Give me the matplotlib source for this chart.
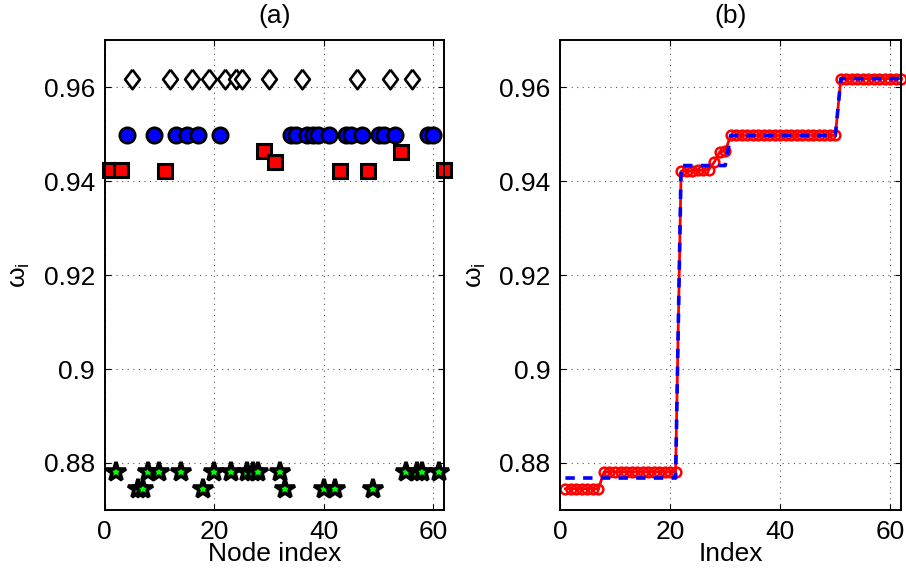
import numpy as np
import matplotlib
matplotlib.use('Agg')
import matplotlib.pyplot as plt

plt.rcParams['font.family'] = ['Liberation Sans', 'DejaVu Sans']
plt.rcParams['mathtext.fontset'] = 'custom'
plt.rcParams['mathtext.rm'] = 'Liberation Sans'
plt.rcParams['mathtext.it'] = 'Liberation Sans:italic'

# node index -> omega value, grouped by cluster
diamond_nodes = [5, 12, 16, 19, 22, 24, 25, 30, 36, 46, 52, 56]
diamond_vals = [0.9618] * len(diamond_nodes)

circle_nodes = [4, 9, 13, 15, 17, 21, 34, 35, 37, 38, 39, 41, 44, 45, 47, 50, 51, 53, 59, 60]
circle_vals = [0.9497] * len(circle_nodes)

square_nodes = [1, 3, 11, 29, 31, 43, 48, 54, 62]
square_vals = [0.9424, 0.9423, 0.9421, 0.9464, 0.9440, 0.9421, 0.9421, 0.9462, 0.9423]

star_hi_nodes = [2, 8, 10, 14, 20, 23, 26, 27, 28, 32, 55, 57, 58, 61]
star_hi_vals = [0.8781] * len(star_hi_nodes)
star_lo_nodes = [6, 7, 18, 33, 40, 42, 49]
star_lo_vals = [0.8745] * len(star_lo_nodes)

star_nodes = star_hi_nodes + star_lo_nodes
star_vals = star_hi_vals + star_lo_vals

# panel b: sorted omega values and cluster mean levels
omega_all = np.array(diamond_vals + circle_vals + square_vals + star_vals)
omega_sorted = np.sort(omega_all)
level_vals = [0.8768, 0.9433, 0.9497, 0.9618]
level_counts = [21, 9, 20, 12]
cluster_mean = np.repeat(level_vals, level_counts)
index = np.arange(1, len(omega_sorted) + 1)

fs = 19
fig = plt.figure(figsize=(9.06, 5.73), dpi=100)
ax1 = fig.add_axes([0.1155, 0.110, 0.375, 0.820])
ax2 = fig.add_axes([0.618, 0.110, 0.377, 0.820])

diamond = [(0, 1), (0.76, 0), (0, -1), (-0.76, 0), (0, 1)]
ax1.plot(diamond_nodes, diamond_vals, linestyle='none', marker=diamond, ms=14,
         mfc='white', mec='black', mew=1.9, clip_on=False)
ax1.plot(circle_nodes, circle_vals, linestyle='none', marker='o', ms=11,
         mfc=(0, 0, 1), mec='black', mew=2.0, clip_on=False)
ax1.plot(square_nodes, square_vals, linestyle='none', marker='s', ms=9.5,
         mfc=(1, 0, 0), mec='black', mew=2.2, clip_on=False)
ax1.plot(star_nodes, star_vals, linestyle='none', marker='*', ms=15,
         mfc=(0, 1, 0), mec='black', mew=2.6, clip_on=False)

ax2.plot(index, omega_sorted, color=(1, 0, 0), lw=2, marker='o', ms=7,
         mfc='none', mec=(1, 0, 0), mew=1.8, clip_on=False)
ax2.plot(index, cluster_mean, color=(0, 0, 1), lw=2.6, dashes=[2.6, 2.3],
         clip_on=False)

for ax, title, xlab in [(ax1, '(a)', 'Node index'), (ax2, '(b)', 'Index')]:
    ax.set_xlim(0, 62)
    ax.set_ylim(0.87, 0.97)
    ax.set_xticks([0, 20, 40, 60])
    ax.set_yticks([0.88, 0.9, 0.92, 0.94, 0.96])
    ax.set_yticklabels(['0.88', '0.9', '0.92', '0.94', '0.96'])
    ax.grid(True, color='0.35', linestyle=(0, (1, 4)), linewidth=0.8)
    ax.tick_params(direction='in', top=True, right=True, length=4,
                   width=0.8, labelsize=fs, pad=7)
    for sp in ax.spines.values():
        sp.set_linewidth(1.4)
    ax.set_title(title, fontsize=fs, pad=12)
    ax.set_xlabel(xlab, fontsize=fs, labelpad=-1)
    ax.set_ylabel('ω$_{\\mathrm{i}}$', fontsize=fs, labelpad=8)

fig.savefig('out.png', dpi=100)
